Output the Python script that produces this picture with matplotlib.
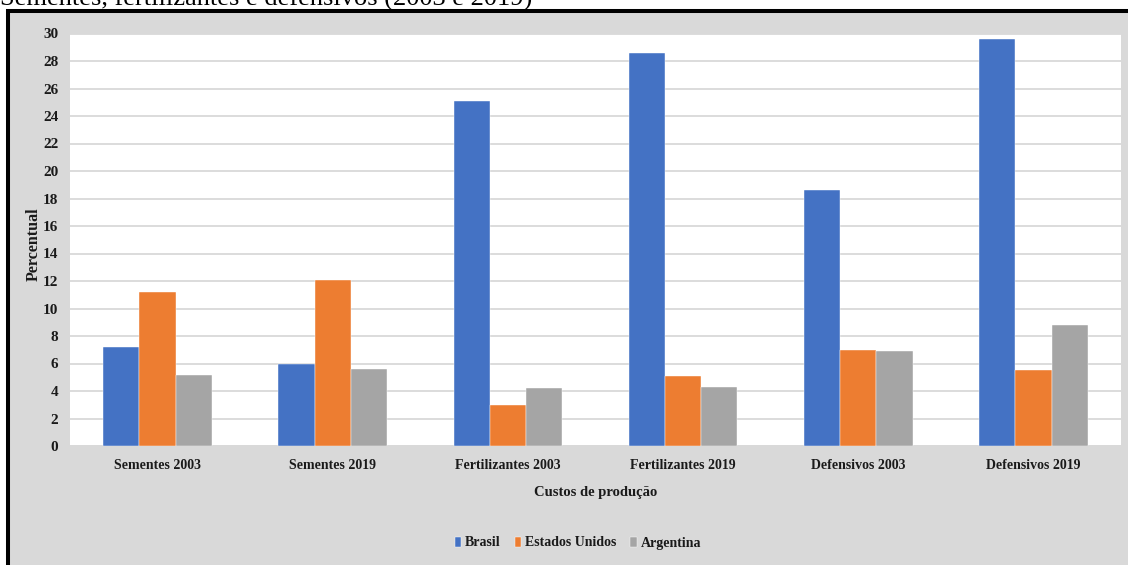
import numpy as np
import matplotlib
matplotlib.use("Agg")
import matplotlib.pyplot as plt
from matplotlib.patches import Rectangle

# Production cost shares (%) by country
categories = ["Sementes 2003", "Sementes 2019", "Fertilizantes 2003",
              "Fertilizantes 2019", "Defensivos 2003", "Defensivos 2019"]
brasil = [7.2, 6.0, 25.1, 28.6, 18.6, 29.6]
estados_unidos = [11.2, 12.1, 3.0, 5.1, 7.0, 5.5]
argentina = [5.2, 5.6, 4.2, 4.3, 6.9, 8.8]
series_names = ["Brasil", "Estados Unidos", "Argentina"]
yticks = list(range(0, 31, 2))

title = "Sementes, fertilizantes e defensivos (2003 e 2019)"

colors = ["#4472c4", "#ed7d31", "#a5a5a5"]
serif = "Liberation Serif"

W, H = 1128, 565
fig = plt.figure(figsize=(W / 100, H / 100), dpi=100)
fig.patch.set_facecolor("white")

# chart frame: grey panel with thick black border (extends past right/bottom edge)
frame = Rectangle((7.5 / W, -0.1), 1.2, 1.1 - 11 / H, transform=fig.transFigure,
                  facecolor="#d9d9d9", edgecolor="black", linewidth=2.9,
                  zorder=-1, clip_on=False)
fig.patches.append(frame)

# caption line above the chart
fig.text(0.0, 1 - 6 / H, title, ha="left", va="baseline", fontsize=19,
         family=serif, color="black")

left, right = 70 / W, 1121 / W
bottom, top = 1 - 446 / H, 1 - 33.5 / H
ax = fig.add_axes([left, bottom, right - left, top - bottom])
ax.set_facecolor("white")

x = np.arange(len(categories))
w = 0.62 / 3
for i, (vals, name) in enumerate(zip([brasil, estados_unidos, argentina], series_names)):
    ax.bar(x + (i - 1) * w, vals, width=w, color=colors[i], label=name,
           edgecolor="white", linewidth=0.3, zorder=3)

ax.set_xlim(-0.5, len(categories) - 0.5)
ax.set_ylim(0, 30)
ax.set_yticks(yticks)
ax.yaxis.grid(True, color="#d9d9d9", linewidth=1.3, zorder=0)
ax.set_axisbelow(True)
for s in ["top", "right", "left"]:
    ax.spines[s].set_visible(False)
ax.spines["bottom"].set_color("#d9d9d9")
ax.spines["bottom"].set_linewidth(1.3)

ax.set_xticks(x)
ax.set_xticklabels(categories)
ax.tick_params(axis="both", length=0)
ax.tick_params(axis="x", pad=9.5)
ax.tick_params(axis="y", pad=8.5)
for lbl in ax.get_xticklabels():
    lbl.set_fontfamily(serif)
    lbl.set_fontweight("bold")
    lbl.set_fontsize(10)
    lbl.set_color("#1a1a1a")
for lbl in ax.get_yticklabels():
    lbl.set_fontfamily(serif)
    lbl.set_fontweight("bold")
    lbl.set_fontsize(11)
    lbl.set_color("#1a1a1a")

ax.set_ylabel("Percentual", fontsize=11.5, fontweight="bold", family=serif, color="#1a1a1a")
ax.yaxis.set_label_coords((42 - 70) / (1121 - 70), 0.49)
ax.set_xlabel("Custos de produção", fontsize=10.5, fontweight="bold", family=serif, color="#1a1a1a")
ax.xaxis.set_label_coords(0.5, -(486 - 446) / (446 - 33.5))

leg = ax.legend(loc="center", bbox_to_anchor=(578 / W, 1 - 543 / H),
                bbox_transform=fig.transFigure, ncol=3, frameon=False,
                handlelength=0.45, handleheight=0.75, handletextpad=0.3,
                columnspacing=1.0, prop={"family": serif, "weight": "bold", "size": 10})
for t in leg.get_texts():
    t.set_color("#1a1a1a")

fig.savefig("out.png", dpi=100)
